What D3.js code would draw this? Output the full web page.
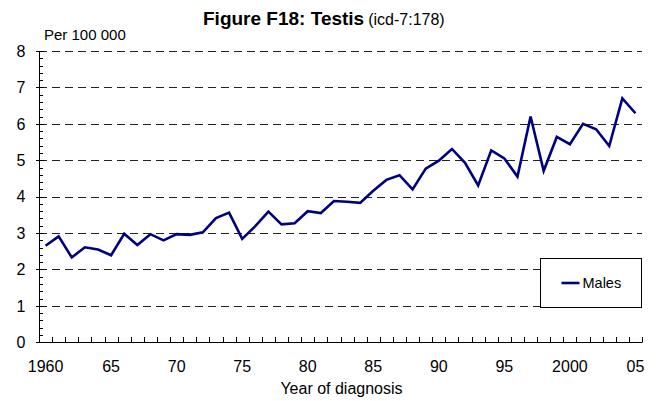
<!DOCTYPE html>
<html>
<head>
<meta charset="utf-8">
<script src="https://cdn.jsdelivr.net/npm/d3@7"></script>
<style>
  body { margin: 0; background: #fff; }
  svg { display: block; font-family: Arial, "Liberation Sans", sans-serif; }
</style>
</head>
<body>
<div id="chart"></div>
<script>
// Data
const years = d3.range(1960, 2006);
const males = [
    2.65, 2.91, 2.33, 2.61, 2.55, 2.39, 2.98, 2.67, 2.97, 2.80,
    2.97, 2.95, 3.02, 3.41, 3.56, 2.84, 3.19, 3.59, 3.24, 3.27,
    3.60, 3.55, 3.88, 3.86, 3.83, 4.16, 4.46, 4.59, 4.20, 4.77,
    4.99, 5.31, 4.93, 4.31, 5.27, 5.05, 4.55, 6.20, 4.71, 5.64,
    5.44, 6.00, 5.85, 5.39, 6.70, 6.29
];
const yTicks = [0, 1, 2, 3, 4, 5, 6, 7, 8];
const labelYears = [1960, 1965, 1970, 1975, 1980, 1985, 1990, 1995, 2000, 2005];
const yearLabel = y => (y === 1960 || y === 2000) ? String(y) : String(y % 100).padStart(2, '0');

const width = 664, height = 401;
const plot = { left: 39, right: 642, top: 51, bottom: 342.3 };

const svg = d3.select('#chart')
    .append('svg')
    .attr('width', width)
    .attr('height', height);

const x = d3.scaleBand()
    .domain(years)
    .range([plot.left, plot.right]);

const y = d3.scaleLinear()
    .domain([0, 8])
    .range([plot.bottom, plot.top]);

const cx = d => x(d) + x.bandwidth() / 2;

// Gridlines (dashed)
svg.append('g')
    .selectAll('line')
    .data(yTicks.filter(d => d > 0))
    .enter()
    .append('line')
    .attr('x1', plot.left)
    .attr('x2', plot.right)
    .attr('y1', d => Math.round(y(d)) + 0.5)
    .attr('y2', d => Math.round(y(d)) + 0.5)
    .attr('stroke', '#222')
    .attr('stroke-width', 1)
    .attr('stroke-dasharray', '8,5');

// Y axis line and ticks
const yAxis = svg.append('g');
yAxis.append('line')
    .attr('x1', plot.left + 0.5).attr('x2', plot.left + 0.5)
    .attr('y1', plot.top).attr('y2', plot.bottom)
    .attr('stroke', '#000');
yAxis.selectAll('.minor')
    .data(d3.range(0, 41).map(i => i / 5))
    .enter()
    .append('line')
    .attr('x1', plot.left)
    .attr('x2', d => plot.left + (Number.isInteger(d) ? 5 : 4))
    .attr('y1', d => Math.round(y(d)) + 0.5)
    .attr('y2', d => Math.round(y(d)) + 0.5)
    .attr('stroke', '#000');
yAxis.selectAll('.major')
    .data(yTicks)
    .enter()
    .append('line')
    .attr('x1', plot.left - 3)
    .attr('x2', plot.left)
    .attr('y1', d => Math.round(y(d)) + 0.5)
    .attr('y2', d => Math.round(y(d)) + 0.5)
    .attr('stroke', '#000');
yAxis.selectAll('text')
    .data(yTicks)
    .enter()
    .append('text')
    .attr('x', 25.5)
    .attr('y', d => y(d))
    .attr('dy', '0.36em')
    .attr('text-anchor', 'end')
    .attr('font-size', '16px')
    .attr('fill', '#000')
    .text(d => d);

// X axis line and ticks between categories
const xAxis = svg.append('g');
xAxis.append('line')
    .attr('x1', plot.left).attr('x2', plot.right + 0.5)
    .attr('y1', Math.round(plot.bottom) + 0.5).attr('y2', Math.round(plot.bottom) + 0.5)
    .attr('stroke', '#000');
xAxis.selectAll('.tick')
    .data(years.slice(1).concat(['end']))
    .enter()
    .append('line')
    .attr('x1', d => Math.round(d === 'end' ? plot.right : x(d)) + 0.5)
    .attr('x2', d => Math.round(d === 'end' ? plot.right : x(d)) + 0.5)
    .attr('y1', Math.round(plot.bottom) - 5)
    .attr('y2', Math.round(plot.bottom))
    .attr('stroke', '#000');
xAxis.selectAll('text')
    .data(labelYears)
    .enter()
    .append('text')
    .attr('x', d => cx(d))
    .attr('y', 371.5)
    .attr('text-anchor', 'middle')
    .attr('font-size', '16px')
    .attr('fill', '#000')
    .text(yearLabel);

// Series line
const line = d3.line()
    .x((d, i) => cx(years[i]))
    .y(d => y(d));

svg.append('path')
    .datum(males)
    .attr('d', line)
    .attr('fill', 'none')
    .attr('stroke', '#000080')
    .attr('stroke-width', 2.6)
    .attr('stroke-linejoin', 'miter');

// Legend
const legend = svg.append('g').attr('transform', 'translate(540.5, 258.5)');
legend.append('rect')
    .attr('width', 101)
    .attr('height', 49)
    .attr('fill', '#fff')
    .attr('stroke', '#000');
legend.append('line')
    .attr('x1', 21).attr('x2', 39)
    .attr('y1', 24.5).attr('y2', 24.5)
    .attr('stroke', '#000080')
    .attr('stroke-width', 2.6);
legend.append('text')
    .attr('x', 42)
    .attr('y', 24.5)
    .attr('dy', '0.36em')
    .attr('font-size', '14.5px')
    .attr('fill', '#000')
    .text('Males');

// Titles
const title = svg.append('text')
    .attr('x', 203)
    .attr('y', 25)
    .attr('fill', '#000');
title.append('tspan')
    .attr('font-size', '19px')
    .attr('font-weight', 'bold')
    .text('Figure F18: Testis');
title.append('tspan')
    .attr('font-size', '16px')
    .attr('dx', 4)
    .text('(icd-7:178)');

svg.append('text')
    .attr('x', 44)
    .attr('y', 40)
    .attr('font-size', '15px')
    .attr('fill', '#000')
    .text('Per 100 000');

svg.append('text')
    .attr('x', 341.5)
    .attr('y', 394)
    .attr('text-anchor', 'middle')
    .attr('font-size', '16px')
    .attr('fill', '#000')
    .text('Year of diagnosis');
</script>
</body>
</html>
